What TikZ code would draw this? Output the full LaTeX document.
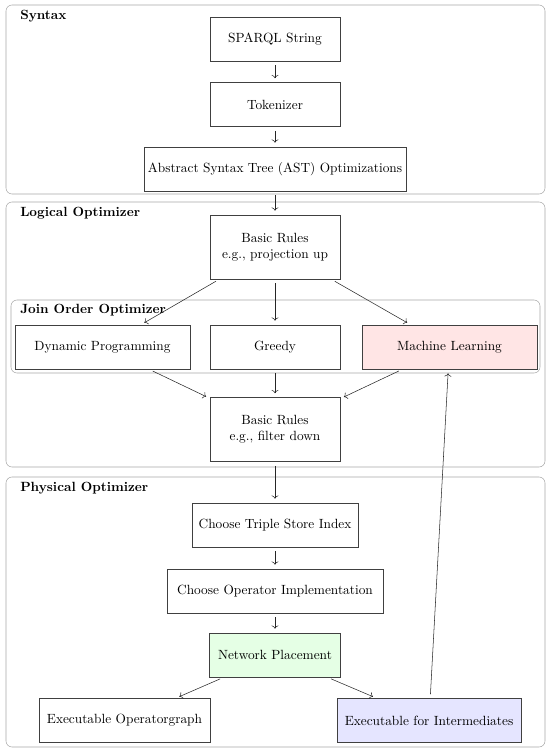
\documentclass[tikz,border=0pt]{standalone}
\usepackage{xcolor}
\usepackage{tikz}
\usetikzlibrary{arrows.meta,positioning,calc}

\begin{document}
\begin{tikzpicture}[
  x=0.75pt, y=-0.75pt,
  box/.style={draw=black!75, align=center, font=\normalsize,
              minimum width=97.5pt, minimum height=33pt, inner sep=2pt},
  frame/.style={draw=black!35, rounded corners=4.5pt},
  title/.style={anchor=west, font=\bfseries, inner sep=0pt},
  arr/.style={->, black!85, shorten >=3pt, shorten <=3pt}]
  \useasboundingbox (0,0) rectangle (550,752);
  % section frames
  \draw[frame] (6,5) rectangle (545,194);
  \draw[frame] (6,202) rectangle (545,467);
  \draw[frame] (11,300) rectangle (540,373);
  \draw[frame] (6,477) rectangle (545,747);
  \node[title] (tsyn) at (20,16) {Syntax};
  \node[title] (tlog) at (20,213) {Logical Optimizer};
  \node[title] (tjoin) at (20,310) {Join Order Optimizer};
  \node[title] (tphys) at (20,488) {Physical Optimizer};
  % syntax
  \node[box] (sparql) at (275,39) {SPARQL String};
  \node[box] (tok) at (275,104.5) {Tokenizer};
  \node[box, minimum width=196.5pt] (ast) at (275,169) {Abstract Syntax Tree (AST) Optimizations};
  % logical
  \node[box, minimum height=48pt] (br1) at (275,247) {Basic Rules\\e.g., projection up};
  \node[box, minimum width=131pt] (dp) at (102.5,347) {Dynamic Programming};
  \node[box] (greedy) at (275,347) {Greedy};
  \node[box, minimum width=131pt, fill=red!10] (ml) at (449.5,347) {Machine Learning};
  \node[box, minimum height=48pt] (br2) at (275,429.5) {Basic Rules\\e.g., filter down};
  % physical
  \node[box, minimum width=124.5pt] (triple) at (275,525) {Choose Triple Store Index};
  \node[box, minimum width=162pt] (oper) at (275,591) {Choose Operator Implementation};
  \node[box, minimum width=98pt, fill=green!10] (place) at (275,655) {Network Placement};
  \node[box, minimum width=128pt] (exop) at (124.5,720.5) {Executable Operatorgraph};
  \node[box, minimum width=138pt, fill=blue!10] (exint) at (429,720.5) {Executable for Intermediates};
  \draw[arr] (sparql) -- (tok);
  \draw[arr] (tok) -- (ast);
  \draw[arr] (ast) -- (br1);
  \draw[arr] (br1) -- (dp);
  \draw[arr] (br1) -- (greedy);
  \draw[arr] (br1) -- (ml);
  \draw[arr] (dp) -- (br2);
  \draw[arr] (greedy) -- (br2);
  \draw[arr] (ml) -- (br2);
  \draw[arr] (br2) -- (triple);
  \draw[arr] (triple) -- (oper);
  \draw[arr] (oper) -- (place);
  \draw[arr] (place) -- (exop);
  \draw[arr] (place) -- (exint);
  \draw[arr] (exint) -- (ml);
\end{tikzpicture}
\end{document}
